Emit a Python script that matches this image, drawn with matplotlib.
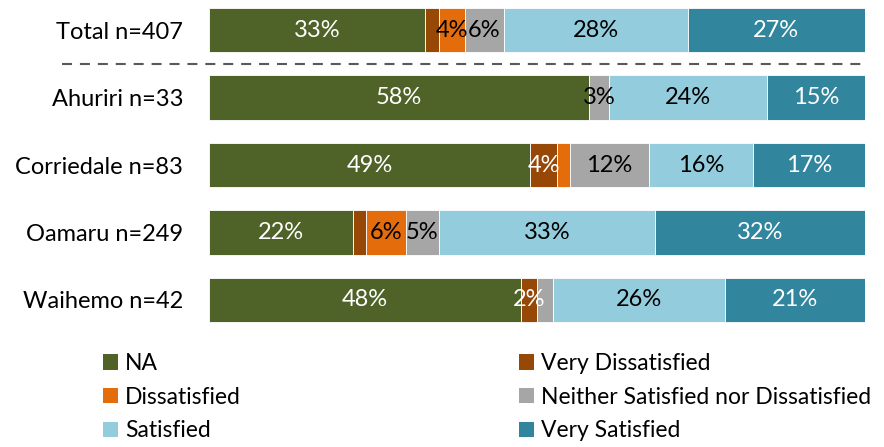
"""Satisfaction by ward: 100% stacked horizontal bars with a total row."""

import matplotlib.pyplot as plt
from matplotlib.patches import Patch

plt.rcParams["font.family"] = ["Lato", "DejaVu Sans"]

groups = ["Total n=407", "Ahuriri n=33", "Corriedale n=83", "Oamaru n=249", "Waihemo n=42"]
categories = [
    "NA",
    "Very Dissatisfied",
    "Dissatisfied",
    "Neither Satisfied nor Dissatisfied",
    "Satisfied",
    "Very Satisfied",
]
colors = ["#4F6228", "#974706", "#E46C0A", "#A6A6A6", "#93CDDD", "#31859C"]
label_colors = ["white", "white", "black", "black", "black", "white"]

# percentage of respondents in each category, one list per group
values = [
    [33, 2, 4, 6, 28, 27],
    [58, 0, 0, 3, 24, 15],
    [49, 4, 2, 12, 16, 17],
    [22, 2, 6, 5, 33, 32],
    [47.6, 2.4, 0, 2.4, 26.2, 21.4],
]
# which segments carry a value label
show_label = [
    [1, 0, 1, 1, 1, 1],
    [1, 0, 0, 1, 1, 1],
    [1, 1, 0, 1, 1, 1],
    [1, 0, 1, 1, 1, 1],
    [1, 1, 0, 0, 1, 1],
]

FS = 17
LEG_FS = 16.5

fig = plt.figure(figsize=(8.84, 4.47), dpi=100)
ax = fig.add_axes([0.2364, 0.269, 0.7421, 0.7237])

for i, row in enumerate(values):
    left = 0
    for j, v in enumerate(row):
        if v > 0:
            ax.barh(i, v, left=left, height=0.66, color=colors[j],
                    edgecolor="white", linewidth=0.6)
            if show_label[i][j]:
                ax.text(left + v / 2, i, f"{v:.0f}%", ha="center", va="center",
                        color=label_colors[j], fontsize=FS)
        left += v

ax.set_xlim(0, 100)
ax.set_ylim(4.4, -0.4)
ax.set_yticks(range(len(groups)))
ax.set_yticklabels(groups, fontsize=FS)
ax.tick_params(axis="y", length=0, pad=18.7)
ax.set_xticks([])
for s in ax.spines.values():
    s.set_visible(False)

# dashed separator between the total and the wards
ax.plot([-22.4, 99.5], [0.5, 0.5], color="#595959", linestyle=(0, (4.8, 3.8)),
        linewidth=1.5, clip_on=False)

# legend laid out row by row in two columns
handles = [Patch(facecolor=c, label=lab) for c, lab in zip(colors, categories)]
legend_kw = dict(loc="upper left", frameon=False, fontsize=LEG_FS,
                 handlelength=0.66, handleheight=0.66, handletextpad=0.3,
                 labelspacing=0.55, borderpad=0, borderaxespad=0)
fig.legend(handles[0::2], categories[0::2], bbox_to_anchor=(0.1165, 0.21), **legend_kw)
fig.legend(handles[1::2], categories[1::2], bbox_to_anchor=(0.587, 0.21), **legend_kw)

fig.savefig("out.png", dpi=100)
